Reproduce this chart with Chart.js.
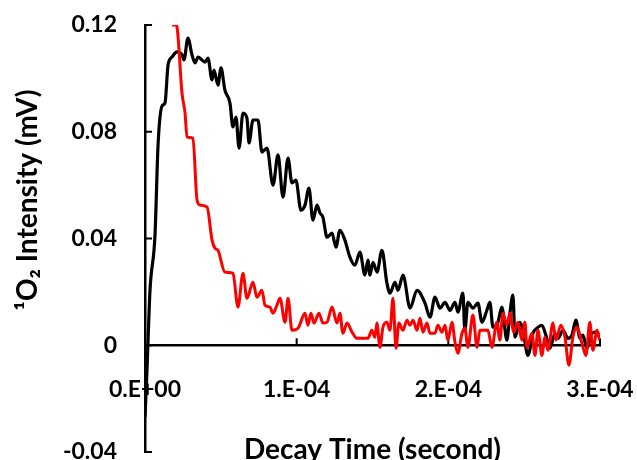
<!DOCTYPE html>
<html>
<head>
<meta charset="utf-8">
<script src="https://cdn.jsdelivr.net/npm/chart.js@4.4.1/dist/chart.umd.min.js"></script>
<style>
  html, body { margin: 0; padding: 0; background: #fff; }
  canvas { display: block; }
</style>
</head>
<body>
<canvas id="chart" width="637" height="460"></canvas>
<script>
// decay time in microseconds, signal in mV
const blackTime = [0, 1.3, 3.3, 6.6, 8.6, 11.2, 13.2, 15.2, 17.8, 21.1,
  24.4, 25.7, 28.3, 31.0, 33.0, 35.0, 37.6, 39.6, 41.5, 44.2,
  45.5, 48.1, 50.1, 52.7, 56.0, 58.0, 60.0, 62.0, 64.6, 67.2,
  68.6, 71.2, 74.5, 77.1, 80.4, 84.4, 87.7, 91.0, 94.3, 96.9,
  99.5, 102.8, 105.5, 108.1, 110.7, 113.4, 115.4, 117.3, 120.0, 123.3,
  125.9, 128.5, 131.8, 135.1, 138.4, 141.7, 145.0, 147.0, 148.3, 150.3,
  153.0, 156.2, 159.5, 161.5, 164.8, 166.8, 170.1, 174.8, 179.3, 184.6,
  187.9, 191.2, 194.5, 197.8, 201.1, 204.4, 206.3, 209.6, 210.9, 212.9,
  216.2, 219.5, 222.2, 225.4, 227.4, 229.4, 232.7, 235.3, 238.6, 240.6,
  242.6, 243.9, 247.2, 249.2, 252.5, 255.8, 258.4, 261.7, 264.3, 267.0,
  270.3, 272.3, 275.6, 278.9, 281.5, 284.1, 286.8, 288.7, 291.4, 294.7,
  298.0, 300.8];
const blackSignal = [-0.027, -0.0094, 0.0206, 0.0413, 0.075, 0.0896, 0.0908, 0.105, 0.108, 0.1099,
  0.1088, 0.1069, 0.1151, 0.1088, 0.1058, 0.108, 0.1069, 0.1061, 0.1076, 0.0994,
  0.1031, 0.0975, 0.1039, 0.0956, 0.0908, 0.0818, 0.0855, 0.0739, 0.087, 0.0851,
  0.0758, 0.0844, 0.0844, 0.0724, 0.0739, 0.06, 0.0713, 0.0555, 0.0701, 0.0608,
  0.0619, 0.0506, 0.0525, 0.0589, 0.0469, 0.0525, 0.0495, 0.048, 0.0405, 0.042,
  0.0368, 0.0431, 0.0394, 0.033, 0.03, 0.0349, 0.0263, 0.0319, 0.0263, 0.0311,
  0.0274, 0.0356, 0.0233, 0.0195, 0.0236, 0.0206, 0.0263, 0.0139, 0.0206, 0.0158,
  0.0105, 0.018, 0.0139, 0.0161, 0.0131, 0.0161, 0.0124, 0.0195, 0.0056, 0.0161,
  0.0139, 0.0158, 0.0086, 0.0131, 0.0161, 0.0068, 0.0086, 0.0143, 0.0019, 0.012,
  0.0188, 0.003, 0.0086, 0.0056, -0.0038, 0.0045, 0.0064, 0.0075, 0.0038, -0.0011,
  0.0045, 0.0026, 0.0056, 0.0026, 0.0038, 0.0094, 0.0026, 0.0038, -0.0011, 0.0045,
  0.0049, 0.0008];

const redTime = [17.8, 20.4, 21.1, 24.4, 26.4, 27.7, 31.6, 34.3, 36.3, 40.9,
  44.2, 46.1, 48.1, 52.7, 58.0, 60.6, 61.3, 64.6, 67.2, 71.2,
  73.8, 77.1, 79.1, 82.4, 84.4, 87.0, 89.0, 92.3, 94.3, 96.9,
  100.9, 105.5, 107.4, 109.4, 111.4, 114.7, 117.3, 120.0, 123.3, 126.6,
  128.5, 130.5, 133.2, 136.5, 139.7, 147.0, 149.6, 151.6, 152.9, 154.9,
  156.9, 159.5, 161.5, 163.5, 165.5, 167.4, 170.1, 172.7, 174.7, 176.7,
  179.3, 181.3, 183.3, 185.9, 187.9, 191.2, 193.1, 195.8, 197.8, 199.7,
  202.4, 204.4, 206.3, 209.0, 210.9, 212.9, 216.2, 218.9, 220.8, 226.1,
  228.7, 232.0, 234.0, 236.0, 238.6, 240.6, 243.2, 245.9, 248.5, 250.5,
  251.8, 255.1, 257.1, 259.1, 261.7, 263.7, 265.7, 269.0, 270.9, 274.2,
  276.9, 279.5, 282.1, 284.8, 288.1, 290.7, 293.3, 295.3, 298.0, 299.9];
const redSignal = [0.12, 0.12, 0.1193, 0.0945, 0.087, 0.078, 0.0776, 0.0544, 0.0525, 0.0518,
  0.0394, 0.0364, 0.0356, 0.0274, 0.027, 0.0158, 0.0143, 0.027, 0.0176, 0.0236,
  0.018, 0.0206, 0.015, 0.0143, 0.012, 0.015, 0.0176, 0.0086, 0.0176, 0.0056,
  0.0064, 0.012, 0.0075, 0.012, 0.0083, 0.012, 0.0083, 0.0086, 0.0143, 0.0083,
  0.012, 0.0045, 0.0083, 0.0049, 0.0026, 0.0026, 0.0056, 0.003, 0.0083, -0.0008,
  0.0068, 0.0086, 0.0056, 0.0176, -0.0011, 0.0083, 0.0056, 0.0094, 0.0075, 0.0094,
  0.0056, 0.0101, 0.0049, 0.0083, 0.0045, 0.0045, 0.0075, 0.0049, 0.0075, 0.0019,
  0.0086, 0.0011, -0.003, 0.0045, 0.0064, -0.0008, 0.0113, -0.0008, 0.0056, 0.0056,
  -0.0008, 0.0086, 0.0019, 0.012, 0.0075, 0.012, 0.0049, 0.0086, 0.0019, 0.0086,
  -0.0008, 0.0045, -0.0038, 0.0056, -0.0038, 0.003, -0.0019, 0.0083, 0.0019, 0.0075,
  0.003, -0.0075, 0.003, 0.0068, 0.0008, -0.0038, 0.0086, -0.0019, 0.0056, 0.0019];

const yTicks = [-0.04, 0, 0.04, 0.08, 0.12];
const xTicks = [0, 1e-4, 2e-4, 3e-4];
const xTickLabels = ['0.E+00', '1.E-04', '2.E-04', '3.E-04'];

const toPoints = (t, v) => t.map((us, i) => ({ x: us * 1e-6, y: v[i] }));

// excel style: tick marks point into the plot
const insideTicks = {
  id: 'insideTicks',
  beforeDatasetsDraw(chart) {
    const { ctx, scales: { x, y } } = chart;
    const x0 = x.getPixelForValue(0);
    const y0 = y.getPixelForValue(0);
    ctx.save();
    ctx.strokeStyle = '#000';
    ctx.lineWidth = 2;
    ctx.beginPath();
    xTicks.forEach(v => {
      const px = x.getPixelForValue(v);
      ctx.moveTo(px, y0);
      ctx.lineTo(px, y0 - 7);
    });
    yTicks.forEach(v => {
      const py = y.getPixelForValue(v);
      ctx.moveTo(x0, py);
      ctx.lineTo(x0 + 7, py);
    });
    ctx.stroke();
    ctx.restore();
  }
};

// keep the label overhang from shrinking the plot area
const noOverhang = s => {
  s.paddingLeft = 0; s.paddingRight = 0; s.paddingTop = 0; s.paddingBottom = 0;
};

const tickFont = { family: 'Lato', size: 23, weight: 'bold' };
const titleFont = { family: 'Lato', size: 28, weight: 'bold' };

new Chart(document.getElementById('chart').getContext('2d'), {
  type: 'line',
  data: {
    datasets: [
      {
        data: toPoints(redTime, redSignal),
        borderColor: '#ff0000',
        borderWidth: 3,
        pointRadius: 0,
        cubicInterpolationMode: 'monotone'
      },
      {
        data: toPoints(blackTime, blackSignal),
        borderColor: '#000000',
        borderWidth: 3.2,
        pointRadius: 0,
        cubicInterpolationMode: 'monotone'
      }
    ]
  },
  options: {
    responsive: false,
    animation: false,
    layout: { padding: { left: 0, top: 25, right: 37, bottom: 8 } },
    plugins: { legend: { display: false }, tooltip: { enabled: false } },
    scales: {
      x: {
        type: 'linear',
        position: { y: 0 },
        min: 0,
        max: 3e-4,
        grid: { display: false, drawTicks: false, tickLength: 0 },
        border: { display: true, color: '#000', width: 2.5 },
        afterBuildTicks: s => { s.ticks = xTicks.map(v => ({ value: v })); },
        afterFit: noOverhang,
        ticks: {
          color: '#000',
          font: tickFont,
          padding: 31,
          maxRotation: 0,
          callback: (v) => xTickLabels[xTicks.findIndex(t => Math.abs(t - v) < 1e-9)]
        },
        title: {
          display: true,
          text: 'Decay Time (second)',
          color: '#000',
          font: titleFont,
          padding: { top: -2, bottom: 0 }
        }
      },
      y: {
        position: 'left',
        min: -0.04,
        max: 0.12,
        grid: { display: false, drawTicks: false, tickLength: 0 },
        border: { display: true, color: '#000', width: 2.5 },
        afterBuildTicks: s => { s.ticks = yTicks.map(v => ({ value: v })); },
        afterFit: s => { s.width = 145; noOverhang(s); },
        ticks: {
          color: '#000',
          font: tickFont,
          padding: 28,
          callback: (v) => Math.abs(v) < 1e-9 ? '0' : v.toFixed(2)
        },
        title: {
          display: true,
          text: '\u2003\u2003\u2003\u2002\u00B9O\u2082 Intensity (mV)',
          color: '#000',
          font: titleFont,
          padding: { top: 11, bottom: 0 }
        }
      }
    }
  },
  plugins: [insideTicks]
});
</script>
</body>
</html>
